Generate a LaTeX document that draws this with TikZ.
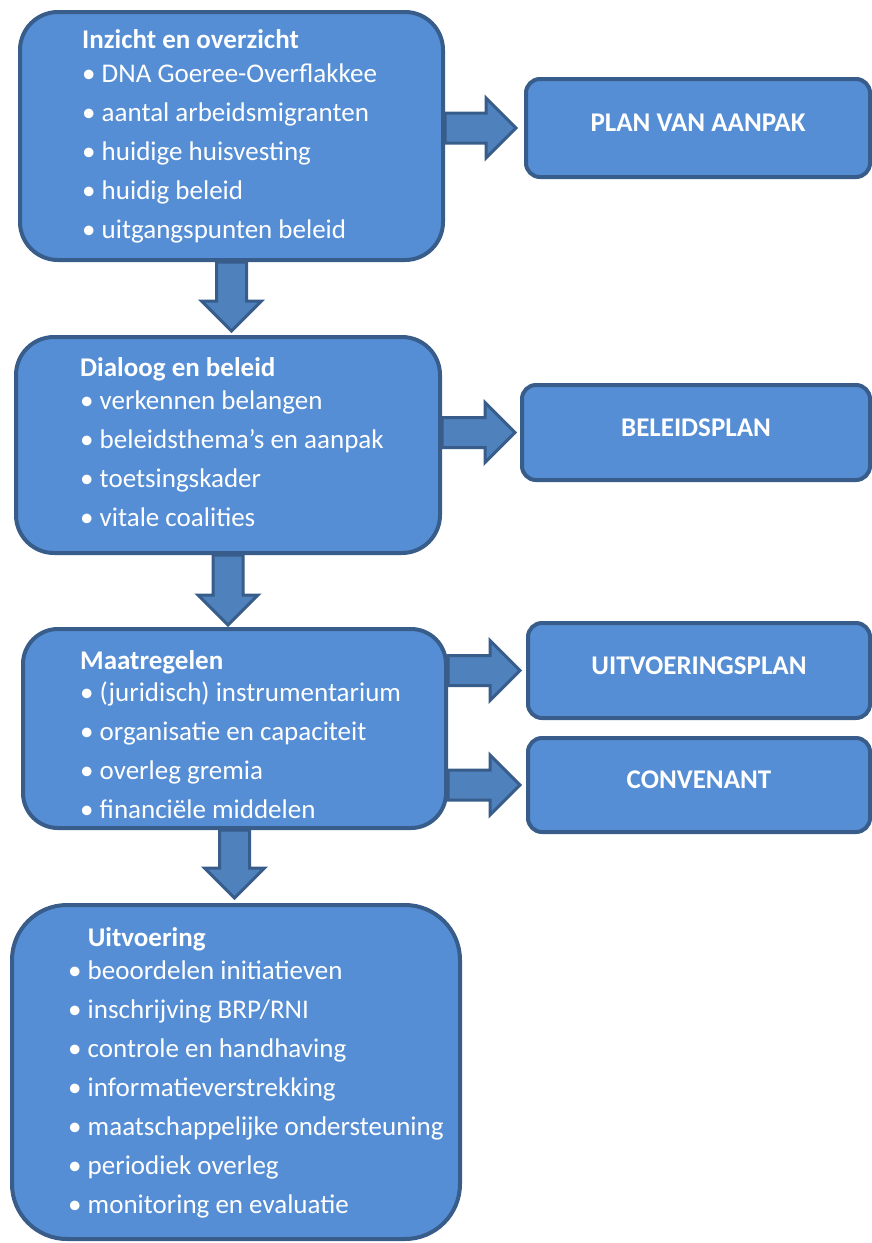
\documentclass[tikz,border=0pt]{standalone}
\usepackage{fontspec}
\setmainfont{Carlito}
\usetikzlibrary{calc}
\definecolor{boxfill}{HTML}{558ED5}
\definecolor{boxline}{HTML}{385D8A}
\definecolor{arrowfill}{HTML}{4F81BD}

% block arrows: start point, tip
\newcommand{\blockright}[2]{%
  \draw[blockarrow] let \p1=(#1), \p2=(#2) in
    (\x1,\y1+15pt) -- (\x2-30pt,\y1+15pt) -- (\x2-30pt,\y1+30pt) -- (\x2,\y1)
    -- (\x2-30pt,\y1-30pt) -- (\x2-30pt,\y1-15pt) -- (\x1,\y1-15pt) -- cycle;}
\newcommand{\blockdown}[2]{%
  \draw[blockarrow] let \p1=(#1), \p2=(#2) in
    (\x1-15pt,\y1) -- (\x1-15pt,\y2+30pt) -- (\x1-30pt,\y2+30pt) -- (\x1,\y2)
    -- (\x1+30pt,\y2+30pt) -- (\x1+15pt,\y2+30pt) -- (\x1+15pt,\y1) -- cycle;}

\begin{document}
\begin{tikzpicture}[x=1pt,y=-1pt,
  mainbox/.style={draw=boxline,line width=4pt,fill=boxfill,rounded corners=38pt},
  smallbox/.style={draw=boxline,line width=4pt,fill=boxfill,rounded corners=14pt,
    text=white,font=\fontsize{27}{32}\selectfont\bfseries,text depth=10pt},
  listtext/.style={text=white,align=left,anchor=west,inner sep=0pt,
    font=\fontsize{27}{39}\selectfont},
  blockarrow/.style={draw=boxline,line width=3pt,fill=arrowfill,line join=miter}]
\useasboundingbox (0,0) rectangle (872,1243);

% main column
\node[mainbox,minimum width=423pt,minimum height=248pt] (inzicht) at (231.5,136) {};
\node[mainbox,minimum width=424pt,minimum height=216pt] (dialoog) at (228,445) {};
\node[mainbox,minimum width=423pt,minimum height=199pt,rounded corners=35pt] (maatregelen) at (234.5,728.5) {};
\node[mainbox,minimum width=448pt,minimum height=334pt,rounded corners=55pt] (uitvoering) at (236,1072) {};

\node[listtext] (inzichtlijst) at (82,136.5) {\textbf{Inzicht en overzicht}\\[-5pt]
  \textbullet\ DNA Goeree-Overflakkee\\
  \textbullet\ aantal arbeidsmigranten\\
  \textbullet\ huidige huisvesting\\
  \textbullet\ huidig beleid\\
  \textbullet\ uitgangspunten beleid};
\node[listtext] (dialooglijst) at (80,442) {\textbf{Dialoog en beleid}\\[-6pt]
  \textbullet\ verkennen belangen\\
  \textbullet\ beleidsthema’s en aanpak\\
  \textbullet\ toetsingskader\\
  \textbullet\ vitale coalities};
\node[listtext] (maatregelenlijst) at (80,734.5) {\textbf{Maatregelen}\\[-7pt]
  \textbullet\ (juridisch) instrumentarium\\
  \textbullet\ organisatie en capaciteit\\
  \textbullet\ overleg gremia\\
  \textbullet\ financiële middelen};
\node[listtext] (uitvoeringlijst) at (68,1072.5) {\hphantom{\textbullet\ }\textbf{Uitvoering}\\[-6pt]
  \textbullet\ beoordelen initiatieven\\
  \textbullet\ inschrijving BRP/RNI\\
  \textbullet\ controle en handhaving\\
  \textbullet\ informatieverstrekking\\
  \textbullet\ maatschappelijke ondersteuning\\
  \textbullet\ periodiek overleg\\
  \textbullet\ monitoring en evaluatie};

% products
\node[smallbox,minimum width=344pt,minimum height=98pt] (plan) at (698,128) {PLAN VAN AANPAK};
\node[smallbox,minimum width=348pt,minimum height=95pt] (beleidsplan) at (696,432.5) {BELEIDSPLAN};
\node[smallbox,minimum width=342pt,minimum height=95pt] (uitvoeringsplan) at (699,670.5) {UITVOERINGSPLAN};
\node[smallbox,minimum width=342pt,minimum height=94pt] (convenant) at (699,785) {CONVENANT};

% arrows
\blockdown{inzicht.south}{$(inzicht.south |- dialoog.north)+(0,-4)$}
\blockdown{dialoog.south}{$(dialoog.south |- maatregelen.north)+(0,-2)$}
\blockdown{maatregelen.south}{$(maatregelen.south |- uitvoering.north)+(0,-5)$}
\blockright{inzicht.east |- plan.west}{$(plan.west)+(-8,0)$}
\blockright{dialoog.east |- beleidsplan.west}{$(beleidsplan.west)+(-5,0)$}
\blockright{maatregelen.east |- uitvoeringsplan.west}{$(uitvoeringsplan.west)+(-6,0)$}
\blockright{maatregelen.east |- convenant.west}{$(convenant.west)+(-6,0)$}
\end{tikzpicture}
\end{document}
